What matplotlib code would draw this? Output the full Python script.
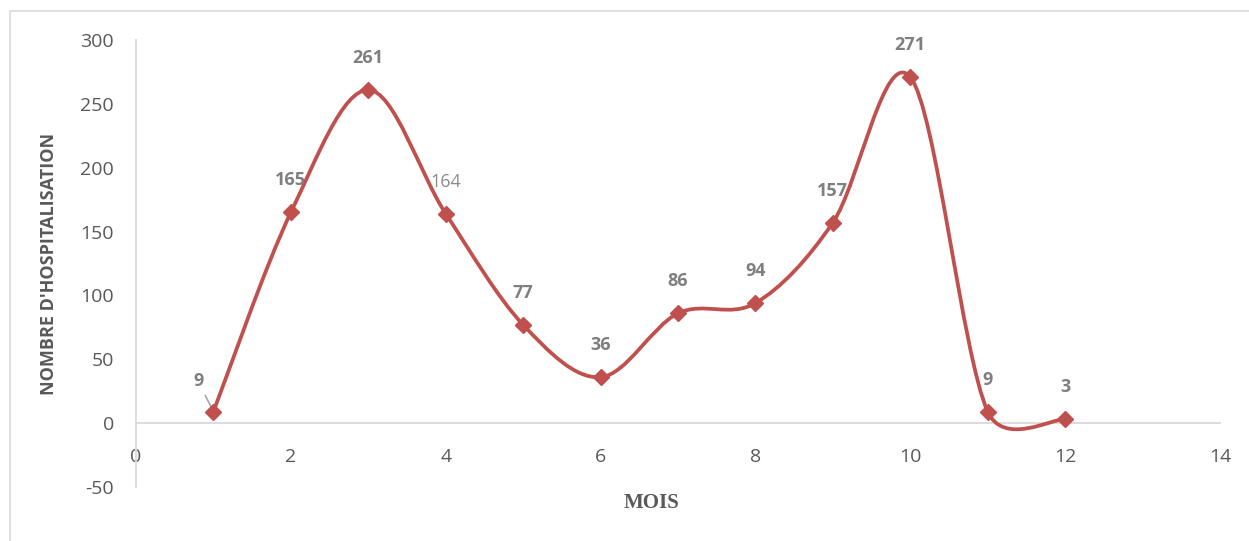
import numpy as np
import matplotlib
matplotlib.use("Agg")
import matplotlib.pyplot as plt
from matplotlib.path import Path
from matplotlib.patches import PathPatch, Rectangle

plt.rcParams["axes.unicode_minus"] = False

# ---- data ----
mois = [1, 2, 3, 4, 5, 6, 7, 8, 9, 10, 11, 12]
hospitalisations = [9, 165, 261, 164, 77, 36, 86, 94, 157, 271, 9, 3]
x_ticks = [0, 2, 4, 6, 8, 10, 12, 14]
y_ticks = [-50, 0, 50, 100, 150, 200, 250, 300]

RED = "#C0504D"
GRAY_LBL = "#7F7F7F"
TICK_C = "#595959"

W, H = 1249, 541
fig = plt.figure(figsize=(W / 100, H / 100), dpi=100)
L, R, T, B = 136, 1220, 40, 487
ax = fig.add_axes([L / W, 1 - B / H, (R - L) / W, (B - T) / H])
ax.set_xlim(0, 14)
ax.set_ylim(-50, 300)

# pixel scale for Excel-like smoothing
sx = (R - L) / 14.0
sy = (B - T) / 350.0

def smooth_path(xs, ys):
    P = np.column_stack([np.asarray(xs, float) * sx, np.asarray(ys, float) * sy])
    n = len(P)
    verts = [tuple(P[0])]
    codes = [Path.MOVETO]
    for i in range(n - 1):
        p0 = P[i - 1] if i > 0 else P[i]
        p1 = P[i]
        p2 = P[i + 1]
        p3 = P[i + 2] if i + 2 < n else P[i + 1]
        seg = np.linalg.norm(p2 - p1)
        t1 = (p2 - p0) / 6.0
        t2 = (p3 - p1) / 6.0
        lim = 0.5 * seg
        if np.linalg.norm(t1) > lim:
            t1 = t1 / np.linalg.norm(t1) * lim
        if np.linalg.norm(t2) > lim:
            t2 = t2 / np.linalg.norm(t2) * lim
        c1 = p1 + t1
        c2 = p2 - t2
        verts += [tuple(c1), tuple(c2), tuple(p2)]
        codes += [Path.CURVE4] * 3
    verts = [(vx / sx, vy / sy) for vx, vy in verts]
    return Path(verts, codes)

ax.add_patch(PathPatch(smooth_path(mois, hospitalisations), facecolor="none",
                       edgecolor=RED, lw=2.7, capstyle="round", joinstyle="round", zorder=3))
ax.plot(mois, hospitalisations, linestyle="none", marker="D", markersize=8.5,
        color=RED, zorder=4)

# data labels
for i, (xv, yv) in enumerate(zip(mois, hospitalisations)):
    if i == 0:
        ax.annotate(str(yv), xy=(xv, yv), xytext=(-11, 22), textcoords="offset points",
                    ha="center", va="center", fontsize=13, color=GRAY_LBL,
                    fontweight="bold", family="Open Sans",
                    arrowprops=dict(arrowstyle="-", color="#A6A6A6", lw=1.2,
                                    shrinkA=2, shrinkB=0))
    else:
        bold = "normal" if yv == 164 else "bold"
        col = "#8C8C8C" if yv == 164 else GRAY_LBL
        ax.annotate(str(yv), xy=(xv, yv), xytext=(0, 23), textcoords="offset points",
                    ha="center", va="center", fontsize=13, color=col,
                    fontweight=bold, family="Open Sans")

# axes styling
for s in ["top", "right"]:
    ax.spines[s].set_visible(False)
ax.spines["bottom"].set_position(("data", 0))
ax.spines["bottom"].set_color("#D9D9D9")
ax.spines["bottom"].set_linewidth(1.3)
ax.spines["left"].set_color("#D9D9D9")
ax.spines["left"].set_linewidth(1.3)
ax.set_xticks(x_ticks)
ax.set_yticks(y_ticks)
ax.tick_params(axis="both", length=0, labelsize=14, labelcolor=TICK_C)
ax.tick_params(axis="x", pad=18)
ax.tick_params(axis="y", pad=16)
for lbl in ax.get_xticklabels() + ax.get_yticklabels():
    lbl.set_family("Open Sans")

ax.set_ylabel("NOMBRE D'HOSPITALISATION", fontsize=13, fontweight="bold",
              color=TICK_C, family="Open Sans")
ax.yaxis.set_label_coords((58 - L) / (R - L), 0.5)

fig.text(652 / W, 1 - 503 / H, "MOIS", ha="center", va="center", fontsize=15,
         fontweight="bold", color=TICK_C, family="Liberation Serif")

# outer border
fig.patches.append(Rectangle((10 / W, -0.1), 1.5, 1 - 11 / H + 0.1,
                             transform=fig.transFigure, fill=False,
                             edgecolor="#D9D9D9", lw=1.2))

fig.savefig("out.png", dpi=100)
